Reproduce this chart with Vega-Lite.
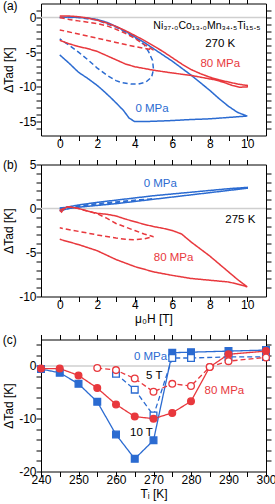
{
  "$schema": "https://vega.github.io/schema/vega-lite/v6.json",
  "padding": {"left": 2, "top": -2.5, "right": 9, "bottom": 0},
  "columns": 1,
  "align": "each",
  "spacing": 7,
  "config": {
    "font": "Liberation Sans",
    "view": {"stroke": "#000000", "strokeWidth": 1},
    "axis": {"labelFont": "Liberation Sans", "titleFont": "Liberation Sans", "labelFontSize": 12, "titleFontSize": 12, "titleFontWeight": "normal", "labelColor": "#000000", "titleColor": "#000000", "tickColor": "#000000", "tickWidth": 1, "domain": false, "grid": false, "tickSize": 5, "labelFlush": false, "labelOverlap": false, "labelPadding": 0},
    "axisBottom": {"labelPadding": -2},
    "text": {"font": "Liberation Sans", "fontSize": 11.5}
  },
  "concat": [
    {
      "width": 225, "height": 132,
      "data": {"values": [
        {"s":"b10","o":1,"x":0,"y":0},{"s":"b10","o":2,"x":0.5,"y":0.05},{"s":"b10","o":3,"x":1,"y":0},{"s":"b10","o":4,"x":1.5,"y":-0.1},{"s":"b10","o":5,"x":2,"y":-0.3},{"s":"b10","o":6,"x":2.5,"y":-0.7},{"s":"b10","o":7,"x":3,"y":-1.3},{"s":"b10","o":8,"x":3.5,"y":-2},{"s":"b10","o":9,"x":4,"y":-2.8},{"s":"b10","o":10,"x":4.5,"y":-3.6},{"s":"b10","o":11,"x":5,"y":-4.5},{"s":"b10","o":12,"x":5.5,"y":-5.4},{"s":"b10","o":13,"x":6,"y":-6.3},{"s":"b10","o":14,"x":6.5,"y":-7.3},{"s":"b10","o":15,"x":7,"y":-8.3},{"s":"b10","o":16,"x":7.5,"y":-9.4},{"s":"b10","o":17,"x":8,"y":-10.5},{"s":"b10","o":18,"x":8.5,"y":-11.7},{"s":"b10","o":19,"x":9,"y":-12.8},{"s":"b10","o":20,"x":9.5,"y":-13.7},{"s":"b10","o":21,"x":10,"y":-14.2},{"s":"b10","o":22,"x":9.5,"y":-14.3},{"s":"b10","o":23,"x":9,"y":-14.4},{"s":"b10","o":24,"x":8,"y":-14.6},{"s":"b10","o":25,"x":7,"y":-14.7},{"s":"b10","o":26,"x":6,"y":-14.85},{"s":"b10","o":27,"x":5,"y":-14.95},{"s":"b10","o":28,"x":4.5,"y":-15},{"s":"b10","o":29,"x":4,"y":-15},{"s":"b10","o":30,"x":3.7,"y":-14.5},{"s":"b10","o":31,"x":3.4,"y":-13.4},{"s":"b10","o":32,"x":3,"y":-12.3},{"s":"b10","o":33,"x":2.7,"y":-11.5},{"s":"b10","o":34,"x":2.3,"y":-10.5},{"s":"b10","o":35,"x":2,"y":-9.8},{"s":"b10","o":36,"x":1.5,"y":-8.8},{"s":"b10","o":37,"x":1,"y":-7.9},{"s":"b10","o":38,"x":0.5,"y":-6.6},{"s":"b10","o":39,"x":0,"y":-5.4},
        {"s":"b5","o":1,"x":0,"y":0},{"s":"b5","o":2,"x":1,"y":0},{"s":"b5","o":3,"x":2,"y":-0.4},{"s":"b5","o":4,"x":3,"y":-1.4},{"s":"b5","o":5,"x":3.5,"y":-2.1},{"s":"b5","o":6,"x":4,"y":-2.9},{"s":"b5","o":7,"x":4.5,"y":-3.9},{"s":"b5","o":8,"x":4.75,"y":-5},{"s":"b5","o":9,"x":4.95,"y":-6.2},{"s":"b5","o":10,"x":5,"y":-7.5},{"s":"b5","o":11,"x":4.9,"y":-8.6},{"s":"b5","o":12,"x":4.6,"y":-9.3},{"s":"b5","o":13,"x":4.2,"y":-9.6},{"s":"b5","o":14,"x":3.8,"y":-9.6},{"s":"b5","o":15,"x":3.3,"y":-9.4},{"s":"b5","o":16,"x":3,"y":-9.1},{"s":"b5","o":17,"x":2.5,"y":-8.3},{"s":"b5","o":18,"x":2,"y":-7.3},{"s":"b5","o":19,"x":1.5,"y":-6.1},{"s":"b5","o":20,"x":1,"y":-5},{"s":"b5","o":21,"x":0.5,"y":-4},{"s":"b5","o":22,"x":0,"y":-3.1},
        {"s":"r10","o":1,"x":0,"y":0.2},{"s":"r10","o":2,"x":0.5,"y":0.2},{"s":"r10","o":3,"x":1,"y":0.1},{"s":"r10","o":4,"x":1.5,"y":-0.1},{"s":"r10","o":5,"x":2,"y":-0.4},{"s":"r10","o":6,"x":2.5,"y":-0.8},{"s":"r10","o":7,"x":3,"y":-1.3},{"s":"r10","o":8,"x":3.5,"y":-1.9},{"s":"r10","o":9,"x":4,"y":-2.6},{"s":"r10","o":10,"x":4.5,"y":-3.3},{"s":"r10","o":11,"x":5,"y":-4.1},{"s":"r10","o":12,"x":5.5,"y":-4.9},{"s":"r10","o":13,"x":6,"y":-5.8},{"s":"r10","o":14,"x":6.5,"y":-6.7},{"s":"r10","o":15,"x":7,"y":-7.5},{"s":"r10","o":16,"x":7.5,"y":-8.1},{"s":"r10","o":17,"x":8,"y":-8.6},{"s":"r10","o":18,"x":8.5,"y":-9},{"s":"r10","o":19,"x":9,"y":-9.3},{"s":"r10","o":20,"x":9.5,"y":-9.6},{"s":"r10","o":21,"x":10,"y":-9.8},{"s":"r10","o":22,"x":10,"y":-10},{"s":"r10","o":23,"x":9.6,"y":-10.05},{"s":"r10","o":24,"x":9.2,"y":-9.8},{"s":"r10","o":25,"x":8.8,"y":-9.4},{"s":"r10","o":26,"x":8.3,"y":-9},{"s":"r10","o":27,"x":7.5,"y":-8.6},{"s":"r10","o":28,"x":7,"y":-8.35},{"s":"r10","o":29,"x":6,"y":-8},{"s":"r10","o":30,"x":5,"y":-7.6},{"s":"r10","o":31,"x":4,"y":-7.1},{"s":"r10","o":32,"x":3.5,"y":-6.7},{"s":"r10","o":33,"x":3,"y":-6.1},{"s":"r10","o":34,"x":2.5,"y":-5.5},{"s":"r10","o":35,"x":2,"y":-4.9},{"s":"r10","o":36,"x":1.5,"y":-4.5},{"s":"r10","o":37,"x":1,"y":-4.2},{"s":"r10","o":38,"x":0.5,"y":-3.8},{"s":"r10","o":39,"x":0,"y":-3.3},
        {"s":"r5","o":1,"x":0,"y":0},{"s":"r5","o":2,"x":0.5,"y":-0.3},{"s":"r5","o":3,"x":1,"y":-0.5},{"s":"r5","o":4,"x":1.5,"y":-0.7},{"s":"r5","o":5,"x":2,"y":-0.9},{"s":"r5","o":6,"x":2.5,"y":-1.2},{"s":"r5","o":7,"x":3,"y":-1.7},{"s":"r5","o":8,"x":3.5,"y":-2.3},{"s":"r5","o":9,"x":4,"y":-3},{"s":"r5","o":10,"x":4.5,"y":-3.9},{"s":"r5","o":11,"x":5,"y":-4.7},{"s":"r5","o":12,"x":4.5,"y":-4.45},{"s":"r5","o":13,"x":4,"y":-4.2},{"s":"r5","o":14,"x":3,"y":-3.6},{"s":"r5","o":15,"x":2,"y":-3},{"s":"r5","o":16,"x":1,"y":-2.4},{"s":"r5","o":17,"x":0,"y":-1.8}
      ]},
      "layer": [
        {"data": {"values": [{}]}, "mark": {"type": "rule", "color": "#cfcfcf", "strokeWidth": 1.5}, "encoding": {"y": {"datum": 0, "type": "quantitative", "scale": {"domain": [-17, 2], "nice": false, "zero": false}, "axis": null}}},
        {"mark": {"type": "line", "strokeWidth": 1.5, "clip": true},
         "encoding": {
           "x": {"field": "x", "type": "quantitative", "scale": {"domain": [-1, 11], "nice": false, "zero": false}, "axis": {"orient": "bottom", "title": null, "values": [0,1,2,3,4,5,6,7,8,9,10], "labelExpr": "datum.value % 2 === 0 ? '' + datum.value : ''", "encode": {"ticks": {"update": {"y2": {"signal": "datum.value % 2 === 0 ? -5 : -3"}}}}}},
           "y": {"field": "y", "type": "quantitative", "scale": {"domain": [-17, 2], "nice": false, "zero": false}, "axis": {"orient": "left", "title": "ΔTad [K]", "titlePadding": 3, "values": [-16,-15,-14,-13,-12,-11,-10,-9,-8,-7,-6,-5,-4,-3,-2,-1,0,1], "labelExpr": "datum.value % 5 === 0 ? '' + datum.value : ''", "encode": {"ticks": {"update": {"x2": {"signal": "datum.value % 5 === 0 ? 5 : 3"}}}}}},
           "color": {"field": "s", "type": "nominal", "legend": null, "scale": {"domain": ["b10","b5","r10","r5","k"], "range": ["#2b6bd1","#2b6bd1","#e8383d","#e8383d","#000000"]}},
           "strokeDash": {"field": "s", "type": "nominal", "legend": null, "scale": {"domain": ["b10","b5","r10","r5"], "range": [[1,0],[5,3],[1,0],[5,3]]}},
           "order": {"field": "o", "type": "quantitative"}
         }},
        {"data": {"values": [
          {"s":"k","x":8.56,"y":-3.83,"t":"270 K"},
          {"s":"r10","x":8.56,"y":-6.7,"t":"80 MPa"},
          {"s":"b10","x":4.92,"y":-13.2,"t":"0 MPa"}
         ]},
         "mark": {"type": "text", "baseline": "middle", "align": "center"},
         "encoding": {
           "x": {"field": "x", "type": "quantitative", "scale": {"domain": [-1, 11], "nice": false, "zero": false}, "axis": {"orient": "top", "title": null, "labels": false, "values": [0,1,2,3,4,5,6,7,8,9,10], "encode": {"ticks": {"update": {"y2": {"signal": "datum.value % 2 === 0 ? 5 : 3"}}}}}},
           "y": {"field": "y", "type": "quantitative", "scale": {"domain": [-17, 2], "nice": false, "zero": false}, "axis": {"orient": "right", "title": null, "labels": false, "values": [-16,-15,-14,-13,-12,-11,-10,-9,-8,-7,-6,-5,-4,-3,-2,-1,0,1], "encode": {"ticks": {"update": {"x2": {"signal": "datum.value % 5 === 0 ? -5 : -3"}}}}}},
           "text": {"field": "t"},
           "color": {"field": "s", "type": "nominal", "legend": null, "scale": {"domain": ["b10","b5","r10","r5","k"], "range": ["#2b6bd1","#2b6bd1","#e8383d","#e8383d","#000000"]}}
         }},
        {"data": {"values": [{"x": 7.85, "y": -1.2, "t": "Ni₃₇.₀Co₁₃.₀Mn₃₄.₅Ti₁₅.₅"}]},
         "mark": {"type": "text", "baseline": "middle", "align": "center", "fontSize": 10.5, "color": "#000000"},
         "encoding": {
           "x": {"field": "x", "type": "quantitative", "scale": {"domain": [-1, 11], "nice": false, "zero": false}, "axis": null},
           "y": {"field": "y", "type": "quantitative", "scale": {"domain": [-17, 2], "nice": false, "zero": false}, "axis": null},
           "text": {"field": "t"}
         }},
        {"data": {"values": [{"x": -3.03, "y": 1.64, "t": "(a)"}]},
         "mark": {"type": "text", "baseline": "middle", "align": "left", "fontSize": 12, "color": "#000000"},
         "encoding": {
           "x": {"field": "x", "type": "quantitative", "scale": {"domain": [-1, 11], "nice": false, "zero": false}, "axis": null},
           "y": {"field": "y", "type": "quantitative", "scale": {"domain": [-17, 2], "nice": false, "zero": false}, "axis": null},
           "text": {"field": "t"}
         }}
      ],
      "resolve": {"axis": {"x": "independent", "y": "independent"}}
    },
    {
      "width": 225, "height": 132,
      "data": {"values": [
        {"s":"b10","o":1,"x":0,"y":-0.3},{"s":"b10","o":2,"x":0.3,"y":-0.1},{"s":"b10","o":3,"x":0.5,"y":0},{"s":"b10","o":4,"x":1,"y":0.15},{"s":"b10","o":5,"x":2,"y":0.35},{"s":"b10","o":6,"x":3,"y":0.55},{"s":"b10","o":7,"x":4,"y":0.8},{"s":"b10","o":8,"x":5,"y":1.05},{"s":"b10","o":9,"x":6,"y":1.3},{"s":"b10","o":10,"x":7,"y":1.55},{"s":"b10","o":11,"x":8,"y":1.8},{"s":"b10","o":12,"x":9,"y":2.05},{"s":"b10","o":13,"x":10,"y":2.3},{"s":"b10","o":14,"x":10,"y":2.4},{"s":"b10","o":15,"x":9,"y":2.25},{"s":"b10","o":16,"x":8,"y":2.05},{"s":"b10","o":17,"x":7,"y":1.85},{"s":"b10","o":18,"x":6,"y":1.65},{"s":"b10","o":19,"x":5,"y":1.45},{"s":"b10","o":20,"x":4,"y":1.2},{"s":"b10","o":21,"x":3,"y":0.95},{"s":"b10","o":22,"x":2,"y":0.7},{"s":"b10","o":23,"x":1,"y":0.4},{"s":"b10","o":24,"x":0.5,"y":0.2},{"s":"b10","o":25,"x":0,"y":0},
        {"s":"b5","o":1,"x":0,"y":-0.2},{"s":"b5","o":2,"x":0.5,"y":0.05},{"s":"b5","o":3,"x":1,"y":0.2},{"s":"b5","o":4,"x":2,"y":0.45},{"s":"b5","o":5,"x":3,"y":0.65},{"s":"b5","o":6,"x":4,"y":0.85},{"s":"b5","o":7,"x":5,"y":1.1},{"s":"b5","o":8,"x":4,"y":0.95},{"s":"b5","o":9,"x":3,"y":0.75},{"s":"b5","o":10,"x":2,"y":0.55},{"s":"b5","o":11,"x":1,"y":0.3},{"s":"b5","o":12,"x":0,"y":0.05},
        {"s":"r10","o":1,"x":0,"y":-0.2},{"s":"r10","o":2,"x":0.1,"y":-0.4},{"s":"r10","o":3,"x":0.2,"y":-0.1},{"s":"r10","o":4,"x":0.4,"y":0.2},{"s":"r10","o":5,"x":0.6,"y":0.15},{"s":"r10","o":6,"x":1,"y":0},{"s":"r10","o":7,"x":1.5,"y":-0.3},{"s":"r10","o":8,"x":2,"y":-0.55},{"s":"r10","o":9,"x":2.5,"y":-0.65},{"s":"r10","o":10,"x":3,"y":-0.85},{"s":"r10","o":11,"x":3.5,"y":-1.2},{"s":"r10","o":12,"x":4,"y":-1.5},{"s":"r10","o":13,"x":4.5,"y":-1.8},{"s":"r10","o":14,"x":5,"y":-2.05},{"s":"r10","o":15,"x":5.5,"y":-2.25},{"s":"r10","o":16,"x":6,"y":-2.5},{"s":"r10","o":17,"x":6.5,"y":-2.9},{"s":"r10","o":18,"x":7,"y":-3.8},{"s":"r10","o":19,"x":7.5,"y":-4.6},{"s":"r10","o":20,"x":8,"y":-5.4},{"s":"r10","o":21,"x":8.5,"y":-6.3},{"s":"r10","o":22,"x":9,"y":-7.2},{"s":"r10","o":23,"x":9.5,"y":-8.1},{"s":"r10","o":24,"x":10,"y":-8.9},{"s":"r10","o":25,"x":9.5,"y":-8.6},{"s":"r10","o":26,"x":9,"y":-8.35},{"s":"r10","o":27,"x":8,"y":-8.15},{"s":"r10","o":28,"x":7,"y":-7.95},{"s":"r10","o":29,"x":6,"y":-7.6},{"s":"r10","o":30,"x":5,"y":-7.2},{"s":"r10","o":31,"x":4,"y":-6.6},{"s":"r10","o":32,"x":3,"y":-5.8},{"s":"r10","o":33,"x":2,"y":-4.8},{"s":"r10","o":34,"x":1,"y":-4.1},{"s":"r10","o":35,"x":0.5,"y":-3.8},{"s":"r10","o":36,"x":0,"y":-3.5},
        {"s":"r5","o":1,"x":0,"y":-0.2},{"s":"r5","o":2,"x":0.4,"y":0.2},{"s":"r5","o":3,"x":1,"y":0},{"s":"r5","o":4,"x":2,"y":-0.6},{"s":"r5","o":5,"x":2.5,"y":-1.1},{"s":"r5","o":6,"x":3,"y":-1.7},{"s":"r5","o":7,"x":3.5,"y":-2.1},{"s":"r5","o":8,"x":4,"y":-2.5},{"s":"r5","o":9,"x":4.5,"y":-2.9},{"s":"r5","o":10,"x":5,"y":-3.2},{"s":"r5","o":11,"x":4.5,"y":-3.45},{"s":"r5","o":12,"x":4,"y":-3.55},{"s":"r5","o":13,"x":3.5,"y":-3.5},{"s":"r5","o":14,"x":3,"y":-3.35},{"s":"r5","o":15,"x":2,"y":-3},{"s":"r5","o":16,"x":1,"y":-2.6},{"s":"r5","o":17,"x":0,"y":-2.2}
      ]},
      "layer": [
        {"data": {"values": [{}]}, "mark": {"type": "rule", "color": "#cfcfcf", "strokeWidth": 1.5}, "encoding": {"y": {"datum": 0, "type": "quantitative", "scale": {"domain": [-10, 5], "nice": false, "zero": false}, "axis": null}}},
        {"mark": {"type": "line", "strokeWidth": 1.5, "clip": true},
         "encoding": {
           "x": {"field": "x", "type": "quantitative", "scale": {"domain": [-1, 11], "nice": false, "zero": false}, "axis": {"orient": "bottom", "title": "μ₀H [T]", "titlePadding": 3, "values": [0,1,2,3,4,5,6,7,8,9,10], "labelExpr": "datum.value % 2 === 0 ? '' + datum.value : ''", "encode": {"ticks": {"update": {"y2": {"signal": "datum.value % 2 === 0 ? -5 : -3"}}}}}},
           "y": {"field": "y", "type": "quantitative", "scale": {"domain": [-10, 5], "nice": false, "zero": false}, "axis": {"orient": "left", "title": "ΔTad [K]", "titlePadding": 3, "values": [-10,-9,-8,-7,-6,-5,-4,-3,-2,-1,0,1,2,3,4,5], "labelExpr": "datum.value % 5 === 0 ? '' + datum.value : ''", "encode": {"ticks": {"update": {"x2": {"signal": "datum.value % 5 === 0 ? 5 : 3"}}}}}},
           "color": {"field": "s", "type": "nominal", "legend": null, "scale": {"domain": ["b10","b5","r10","r5","k"], "range": ["#2b6bd1","#2b6bd1","#e8383d","#e8383d","#000000"]}},
           "strokeDash": {"field": "s", "type": "nominal", "legend": null, "scale": {"domain": ["b10","b5","r10","r5"], "range": [[1,0],[5,3],[1,0],[5,3]]}},
           "order": {"field": "o", "type": "quantitative"}
         }},
        {"data": {"values": [
          {"s":"b10","x":5.36,"y":2.73,"t":"0 MPa"},
          {"s":"k","x":9.63,"y":-1.36,"t":"275 K"},
          {"s":"r10","x":6.07,"y":-5.6,"t":"80 MPa"}
         ]},
         "mark": {"type": "text", "baseline": "middle", "align": "center"},
         "encoding": {
           "x": {"field": "x", "type": "quantitative", "scale": {"domain": [-1, 11], "nice": false, "zero": false}, "axis": {"orient": "top", "title": null, "labels": false, "values": [0,1,2,3,4,5,6,7,8,9,10], "encode": {"ticks": {"update": {"y2": {"signal": "datum.value % 2 === 0 ? 5 : 3"}}}}}},
           "y": {"field": "y", "type": "quantitative", "scale": {"domain": [-10, 5], "nice": false, "zero": false}, "axis": {"orient": "right", "title": null, "labels": false, "values": [-9,-8,-7,-6,-5,-4,-3,-2,-1,0,1,2,3,4], "encode": {"ticks": {"update": {"x2": {"signal": "datum.value % 5 === 0 ? -5 : -3"}}}}}},
           "text": {"field": "t"},
           "color": {"field": "s", "type": "nominal", "legend": null, "scale": {"domain": ["b10","b5","r10","r5","k"], "range": ["#2b6bd1","#2b6bd1","#e8383d","#e8383d","#000000"]}}
         }},
        {"data": {"values": [{"x": -3.03, "y": 4.89, "t": "(b)"}]},
         "mark": {"type": "text", "baseline": "middle", "align": "left", "fontSize": 12, "color": "#000000"},
         "encoding": {
           "x": {"field": "x", "type": "quantitative", "scale": {"domain": [-1, 11], "nice": false, "zero": false}, "axis": null},
           "y": {"field": "y", "type": "quantitative", "scale": {"domain": [-10, 5], "nice": false, "zero": false}, "axis": null},
           "text": {"field": "t"}
         }}
      ],
      "resolve": {"axis": {"x": "independent", "y": "independent"}}
    },
    {
      "width": 225, "height": 132,
      "data": {"values": [
        {"s":"b10","x":240,"y":-0.6},{"s":"b10","x":245,"y":-1.3},{"s":"b10","x":250,"y":-3.4},{"s":"b10","x":255,"y":-6.8},{"s":"b10","x":260,"y":-13},{"s":"b10","x":265,"y":-17.6},{"s":"b10","x":270,"y":-14.1},{"s":"b10","x":275,"y":2.5},{"s":"b10","x":280,"y":2.6},{"s":"b10","x":290,"y":2.8},{"s":"b10","x":300,"y":3},
        {"s":"b5","x":260,"y":-1.5},{"s":"b5","x":265,"y":-4.5},{"s":"b5","x":270,"y":-9.4},{"s":"b5","x":275,"y":1.5},{"s":"b5","x":280,"y":1.5},{"s":"b5","x":290,"y":1.7},{"s":"b5","x":300,"y":1.7},
        {"s":"r10","x":240,"y":-0.5},{"s":"r10","x":245,"y":-0.5},{"s":"r10","x":250,"y":-1.8},{"s":"r10","x":255,"y":-4.2},{"s":"r10","x":260,"y":-7.3},{"s":"r10","x":265,"y":-9.6},{"s":"r10","x":270,"y":-10},{"s":"r10","x":275,"y":-8.9},{"s":"r10","x":280,"y":-6.7},{"s":"r10","x":285,"y":-0.2},{"s":"r10","x":290,"y":2.2},{"s":"r10","x":300,"y":2.8},
        {"s":"r5","x":255,"y":-0.4},{"s":"r5","x":260,"y":-0.8},{"s":"r5","x":265,"y":-2.4},{"s":"r5","x":270,"y":-4.9},{"s":"r5","x":275,"y":-3.4},{"s":"r5","x":280,"y":-3.8},{"s":"r5","x":285,"y":-0.2},{"s":"r5","x":290,"y":0.9},{"s":"r5","x":300,"y":1.6}
      ]},
      "layer": [
        {"data": {"values": [{}]}, "mark": {"type": "rule", "color": "#cfcfcf", "strokeWidth": 1.5}, "encoding": {"y": {"datum": 0, "type": "quantitative", "scale": {"domain": [-20, 5], "nice": false, "zero": false}, "axis": null}}},
        {"mark": {"type": "line", "strokeWidth": 1.3},
         "encoding": {
           "x": {"field": "x", "type": "quantitative", "scale": {"domain": [240, 300], "nice": false, "zero": false}, "axis": {"orient": "bottom", "title": "Tᵢ [K]", "titlePadding": 3, "values": [240,245,250,255,260,265,270,275,280,285,290,295,300], "labelExpr": "datum.value % 10 === 0 ? '' + datum.value : ''", "encode": {"ticks": {"update": {"y2": {"signal": "datum.value % 10 === 0 ? -5 : -3"}}}}}},
           "y": {"field": "y", "type": "quantitative", "scale": {"domain": [-20, 5], "nice": false, "zero": false}, "axis": {"orient": "left", "title": "ΔTad [K]", "titlePadding": 3, "values": [-20,-18,-16,-14,-12,-10,-8,-6,-4,-2,0,2,4], "labelExpr": "datum.value % 10 === 0 ? '' + datum.value : ''", "encode": {"ticks": {"update": {"x2": {"signal": "datum.value % 10 === 0 ? 5 : 3"}}}}}},
           "color": {"field": "s", "type": "nominal", "legend": null, "scale": {"domain": ["b10","b5","r10","r5","k"], "range": ["#2b6bd1","#2b6bd1","#e8383d","#e8383d","#000000"]}},
           "strokeDash": {"field": "s", "type": "nominal", "legend": null, "scale": {"domain": ["b10","b5","r10","r5"], "range": [[1,0],[2,2],[1,0],[4,2,1,2]]}}
         }},
        {"mark": {"type": "point", "filled": false, "strokeWidth": 1.3, "opacity": 1, "size": 45},
         "encoding": {
           "x": {"field": "x", "type": "quantitative", "scale": {"domain": [240, 300], "nice": false, "zero": false}, "axis": {"orient": "top", "title": null, "labels": false, "values": [240,245,250,255,260,265,270,275,280,285,290,295,300], "encode": {"ticks": {"update": {"y2": {"signal": "datum.value % 10 === 0 ? 5 : 3"}}}}}},
           "y": {"field": "y", "type": "quantitative", "scale": {"domain": [-20, 5], "nice": false, "zero": false}, "axis": {"orient": "right", "title": null, "labels": false, "values": [-18,-16,-14,-12,-10,-8,-6,-4,-2,0,2,4], "encode": {"ticks": {"update": {"x2": {"signal": "datum.value % 10 === 0 ? -5 : -3"}}}}}},
           "shape": {"field": "s", "type": "nominal", "legend": null, "scale": {"domain": ["b10","b5","r10","r5"], "range": ["square","square","circle","circle"]}},
           "stroke": {"field": "s", "type": "nominal", "legend": null, "scale": {"domain": ["b10","b5","r10","r5"], "range": ["#2b6bd1","#2b6bd1","#e8383d","#e8383d"]}},
           "fill": {"field": "s", "type": "nominal", "legend": null, "scale": {"domain": ["b10","b5","r10","r5"], "range": ["#2b6bd1","#ffffff","#e8383d","#ffffff"]}}
         }},
        {"data": {"values": [
          {"s":"b10","x":269.2,"y":1.7,"t":"0 MPa"},
          {"s":"k","x":270.2,"y":-2,"t":"5 T"},
          {"s":"r10","x":288.9,"y":-4.8,"t":"80 MPa"},
          {"s":"k","x":266.8,"y":-12.8,"t":"10 T"}
         ]},
         "mark": {"type": "text", "baseline": "middle", "align": "center"},
         "encoding": {
           "x": {"field": "x", "type": "quantitative", "scale": {"domain": [240, 300], "nice": false, "zero": false}, "axis": null},
           "y": {"field": "y", "type": "quantitative", "scale": {"domain": [-20, 5], "nice": false, "zero": false}, "axis": null},
           "text": {"field": "t"},
           "color": {"field": "s", "type": "nominal", "legend": null, "scale": {"domain": ["b10","b5","r10","r5","k"], "range": ["#2b6bd1","#2b6bd1","#e8383d","#e8383d","#000000"]}}
         }},
        {"data": {"values": [{"x": 229.8, "y": 5.0, "t": "(c)"}]},
         "mark": {"type": "text", "baseline": "middle", "align": "left", "fontSize": 12, "color": "#000000"},
         "encoding": {
           "x": {"field": "x", "type": "quantitative", "scale": {"domain": [240, 300], "nice": false, "zero": false}, "axis": null},
           "y": {"field": "y", "type": "quantitative", "scale": {"domain": [-20, 5], "nice": false, "zero": false}, "axis": null},
           "text": {"field": "t"}
         }}
      ],
      "resolve": {"axis": {"x": "independent", "y": "independent"}}
    }
  ]
}
